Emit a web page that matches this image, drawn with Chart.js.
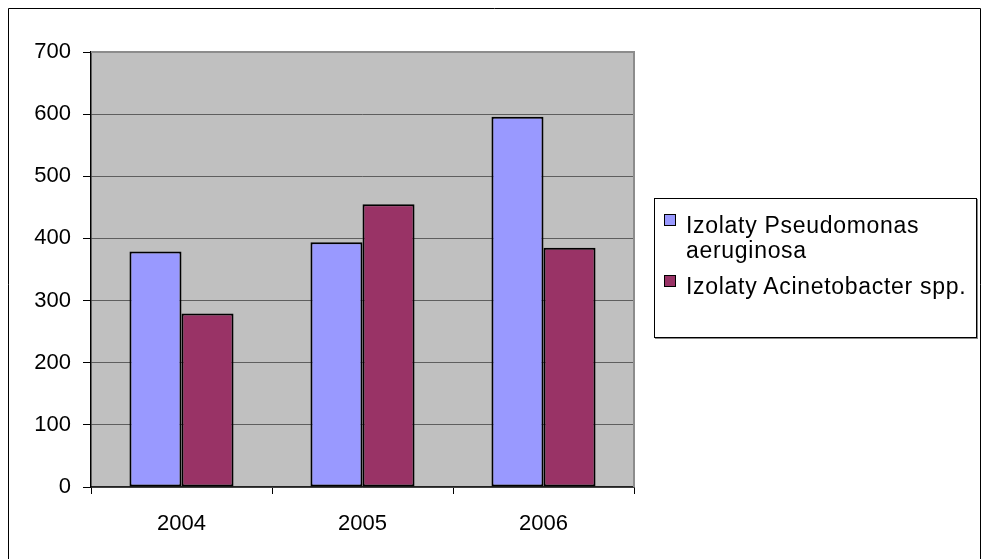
<!DOCTYPE html>
<html>
<head>
<meta charset="utf-8">
<script src="https://cdn.jsdelivr.net/npm/chart.js@4/dist/chart.umd.min.js"></script>
<style>
  html, body { margin: 0; padding: 0; background: #fff; }
  #wrap { position: relative; width: 982px; height: 559px; overflow: hidden; }
  #chart { position: absolute; left: 0; top: 0; }
  #legend {
    position: absolute; left: 654px; top: 198px; width: 321px; height: 138px;
    border: 1px solid #000; background: #fff; box-shadow: 1px 1px 0 #888;
    font-family: "Liberation Sans", Arial, sans-serif; font-size: 23px; color: #000;
    letter-spacing: 0.7px;
  }
  .item { position: absolute; left: 9px; display: flex; align-items: flex-start; }
  .box { width: 10px; height: 10px; border: 1px solid #000; margin-top: 1px; margin-right: 10px; flex: none; }
  .txt { width: 300px; line-height: 25px; white-space: normal; }
</style>
</head>
<body>
<div id="wrap">
  <canvas id="chart" width="982" height="559"></canvas>
  <div id="legend"></div>
</div>
<script>
// Years on the category axis
const years = ['2004', '2005', '2006'];
// Number of isolates per year
const pseudomonas = [379, 394, 596];
const acinetobacter = [279, 455, 385];
const seriesNames = ['Izolaty Pseudomonas aeruginosa', 'Izolaty Acinetobacter spp.'];
const seriesColors = ['#9999FF', '#993366'];
const yTicks = [0, 100, 200, 300, 400, 500, 600, 700];

const FONT = { family: '"Liberation Sans", Arial, sans-serif', size: 22 };

// Gray plot background, gray plot frame and the outer chart frame
const framePlugin = {
  id: 'frames',
  beforeDraw(chart) {
    const { ctx, chartArea: a } = chart;
    ctx.save();
    ctx.fillStyle = '#C0C0C0';
    ctx.fillRect(a.left, a.top, a.right - a.left, a.bottom - a.top);
    ctx.restore();
  },
  afterDraw(chart) {
    const { ctx, chartArea: a } = chart;
    ctx.save();
    ctx.strokeStyle = '#8c8c8c';
    ctx.lineWidth = 2;
    ctx.beginPath();
    ctx.moveTo(a.left, a.top);
    ctx.lineTo(a.right, a.top);
    ctx.lineTo(a.right, a.bottom);
    ctx.stroke();
    ctx.strokeStyle = '#000';
    ctx.lineWidth = 1;
    ctx.beginPath();
    ctx.moveTo(8.5, 600);
    ctx.lineTo(8.5, 8.5);
    ctx.lineTo(980.5, 8.5);
    ctx.lineTo(980.5, 600);
    ctx.stroke();
    ctx.restore();
  }
};

const chart = new Chart(document.getElementById('chart'), {
  type: 'bar',
  data: {
    labels: years,
    datasets: [
      { label: seriesNames[0], data: pseudomonas, backgroundColor: seriesColors[0] },
      { label: seriesNames[1], data: acinetobacter, backgroundColor: seriesColors[1] }
    ].map(d => Object.assign(d, {
      borderColor: '#000', borderWidth: 2, borderSkipped: false,
      categoryPercentage: 0.575, barPercentage: 1
    }))
  },
  options: {
    responsive: false,
    animation: false,
    layout: { padding: { left: 0, right: 348, top: 52, bottom: 0 } },
    plugins: { legend: { display: false }, tooltip: { enabled: false } },
    scales: {
      x: {
        offset: true,
        grid: { offset: true, drawOnChartArea: false, tickLength: 7, tickColor: '#000' },
        border: { color: '#222', width: 1.5 },
        ticks: { color: '#000', font: FONT, padding: 17 },
        afterFit(s) { s.height = 72; }
      },
      y: {
        min: 0, max: 700,
        afterBuildTicks(s) { s.ticks = yTicks.map(v => ({ value: v })); },
        grid: { color: '#5e5e5e', lineWidth: 1, tickLength: 8, tickColor: '#000' },
        border: { color: '#000', width: 1.5 },
        ticks: { color: '#000', font: FONT, padding: 12 },
        afterFit(s) { s.width = 91; }
      }
    }
  },
  plugins: [framePlugin]
});

// Legend built from the chart's datasets
const legend = document.getElementById('legend');
const tops = [14, 75];
chart.data.datasets.forEach((ds, i) => {
  const item = document.createElement('div');
  item.className = 'item';
  item.style.top = tops[i] + 'px';
  const box = document.createElement('div');
  box.className = 'box';
  box.style.background = ds.backgroundColor;
  const txt = document.createElement('div');
  txt.className = 'txt';
  txt.textContent = ds.label;
  item.appendChild(box);
  item.appendChild(txt);
  legend.appendChild(item);
});
</script>
</body>
</html>
